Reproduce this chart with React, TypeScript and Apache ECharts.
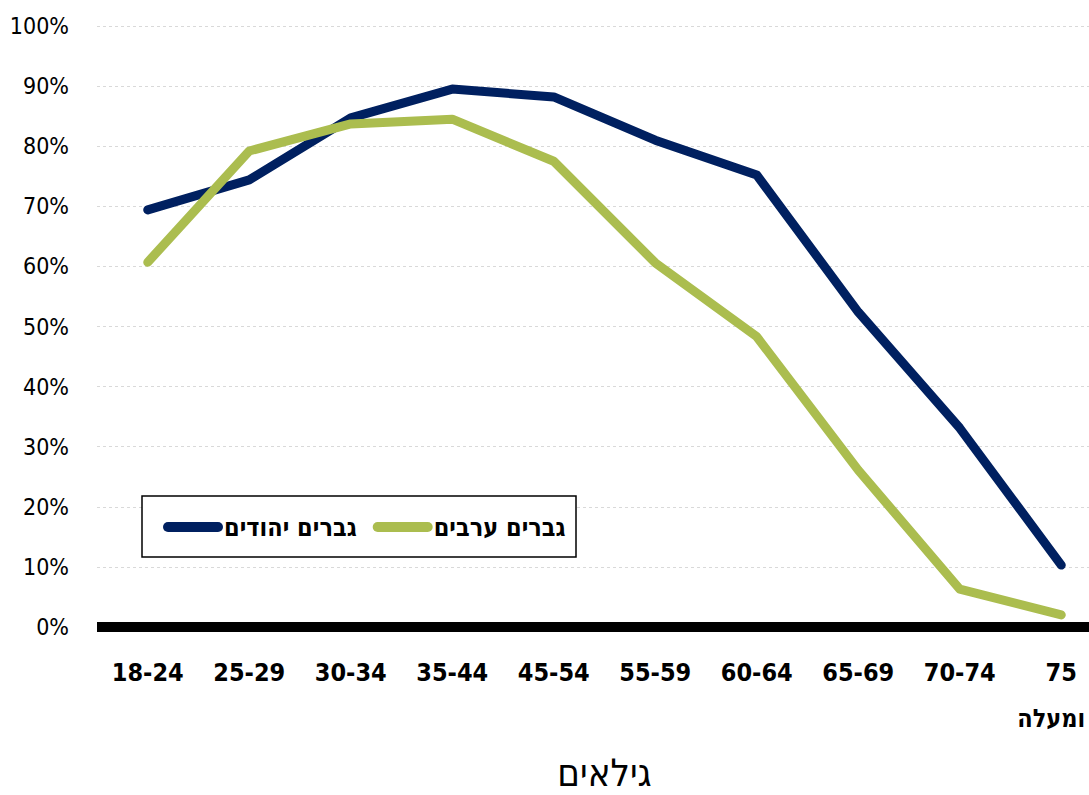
import React, { useEffect, useRef } from "react";
import * as echarts from "echarts";

const categories = ["18-24", "25-29", "30-34", "35-44", "45-54", "55-59", "60-64", "65-69", "70-74", "75\nומעלה"];
const jewishMen = [69.4, 74.4, 84.7, 89.5, 88.2, 81.0, 75.2, 52.4, 33.1, 10.3];
const arabMen = [60.7, 79.2, 83.7, 84.5, 77.5, 60.6, 48.3, 26.1, 6.3, 2.0];
const seriesNames = ["גברים יהודים", "גברים ערבים"];
const axisTitle = "גילאים";

const FONT = "'DejaVu Sans Condensed', 'Liberation Sans', sans-serif";
const NAVY = "#002060";
const GREEN = "#abbd4f";
const capsule = "path://M5,0 H55 A5,5 0 0 1 55,10 H5 A5,5 0 0 1 5,0 Z";

export default function App() {
  const ref = useRef<HTMLDivElement>(null);
  useEffect(() => {
    if (!ref.current) return;
    const chart = echarts.init(ref.current, undefined, { renderer: "svg" });
    chart.setOption({
      animation: false,
      backgroundColor: "#ffffff",
      grid: { left: 97, top: 26, width: 1015, height: 601, containLabel: false, outerBoundsMode: "none" },
      graphic: [
        {
          type: "rect",
          z: 3,
          shape: { x: 142, y: 496, width: 434, height: 61 },
          style: { fill: "#ffffff", stroke: "#000000", lineWidth: 1.5 },
        },
      ],
      legend: {
        z: 5,
        left: 163,
        top: 512,
        padding: 0,
        itemGap: 16,
        itemWidth: 62,
        itemHeight: 10,
        data: [
          { name: seriesNames[0], icon: capsule, itemStyle: { color: NAVY } },
          { name: seriesNames[1], icon: capsule, itemStyle: { color: GREEN } },
        ],
        textStyle: { fontFamily: FONT, fontWeight: "bold", fontSize: 25, color: "#000", lineHeight: 30, padding: [0, 0, 0, -5] },
      },
      xAxis: {
        type: "category",
        data: categories,
        boundaryGap: true,
        axisLine: { show: true, lineStyle: { color: "#000", width: 10, cap: "butt" } },
        axisTick: { show: false },
        axisLabel: {
          interval: 0,
          margin: 22,
          fontFamily: FONT,
          fontWeight: "bold",
          fontSize: 25,
          lineHeight: 46,
          color: "#000",
          formatter: (v: string) => {
            const parts = v.split("\n");
            return parts.length > 1 ? `${parts[0]}\n{r|${parts[1]}}` : v;
          },
          rich: {
            r: {
              fontFamily: FONT,
              fontWeight: "bold",
              fontSize: 25,
              lineHeight: 46,
              color: "#000",
              padding: [0, 20, 0, 0],
            },
          },
        },
        name: axisTitle,
        nameLocation: "middle",
        nameGap: 127,
        nameTextStyle: { fontFamily: FONT, fontSize: 38, color: "#000" },
      },
      yAxis: {
        type: "value",
        min: 0,
        max: 100,
        interval: 10,
        axisLine: { show: false },
        axisTick: { show: false },
        axisLabel: {
          formatter: (v: number) => `${v}%`,
          margin: 28,
          fontFamily: FONT,
          fontSize: 23,
          color: "#000",
        },
        splitLine: { show: true, lineStyle: { color: "#d9d9d9", type: [3, 3], width: 1 } },
      },
      series: [
        {
          name: seriesNames[0],
          type: "line",
          data: jewishMen,
          symbol: "none",
          lineStyle: { color: NAVY, width: 9, cap: "round", join: "round" },
          itemStyle: { color: NAVY },
          z: 2,
        },
        {
          name: seriesNames[1],
          type: "line",
          data: arabMen,
          symbol: "none",
          lineStyle: { color: GREEN, width: 9, cap: "round", join: "round" },
          itemStyle: { color: GREEN },
          z: 2,
        },
      ],
    });
    return () => chart.dispose();
  }, []);
  return <div ref={ref} style={{ width: 1089, height: 795, position: "absolute", left: 0, top: 0 }} />;
}
